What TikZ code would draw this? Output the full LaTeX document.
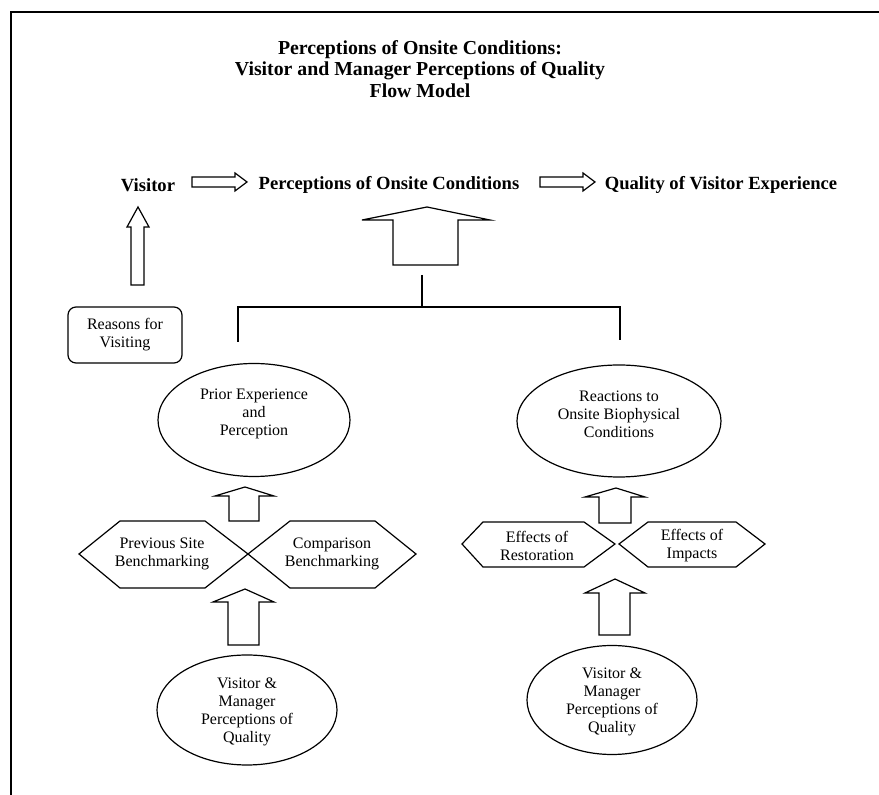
\documentclass[tikz,border=0pt]{standalone}
\usepackage{fontspec}
\setmainfont{Liberation Serif}
\usetikzlibrary{shapes.geometric}

\tikzset{
  oval/.style={ellipse, draw, inner sep=0pt},
  txt/.style={align=center, font=\fontsize{8}{9}\selectfont, inner sep=0pt},
  head/.style={align=center, font=\fontsize{9.3}{10.75}\selectfont\bfseries, inner sep=0pt},
}

\begin{document}
\begin{tikzpicture}[x=0.5pt, y=-0.5pt, line width=0.6pt]
  \useasboundingbox (0,0) rectangle (879,795);
  % frame
  \draw (879,12) -- (11,12) -- (11,795);

  % title
  \node[head, font=\fontsize{9.9}{10.75}\selectfont\bfseries] (title) at (420,69) {Perceptions of Onsite Conditions:\\Visitor and Manager Perceptions of Quality\\Flow Model};

  % flow row
  \node[head] (visitor) at (148,185) {Visitor};
  \node[head] (onsite) at (389,185) {Perceptions of Onsite Conditions};
  \node[head] (quality) at (721,185) {Quality of Visitor Experience};
  \draw (192,177) -- (235,177) -- (235,173) -- (247,182) -- (235,191) -- (235,187) -- (192,187) -- cycle;
  \draw (540,177) -- (583,177) -- (583,173) -- (595,182) -- (583,191) -- (583,187) -- (540,187) -- cycle;

  % reasons
  \node[txt, draw, rounded corners=4pt, minimum width=57pt, minimum height=28pt] (reasons) at (125,335) {Reasons for\\Visiting};
  \draw (131,285) -- (131,227) -- (127,227) -- (138,207) -- (149,227) -- (144,227) -- (144,285) -- cycle;

  % big arrow and tree
  \draw (393,265) -- (393,220) -- (362,220) -- (427,207) -- (490,220) -- (458,220) -- (458,265) -- cycle;
  \coordinate (stem) at (422,275);
  \coordinate (fork) at (422,307);
  \coordinate (dropL) at (238,342);
  \coordinate (dropR) at (620,340);
  \draw (stem) -- (fork);
  \draw (dropL) |- (fork) -| (dropR);

  % left branch
  \node[oval, minimum width=96pt, minimum height=56.5pt] (prior) at (254,420) {};
  \node[txt] (priortxt) at ([yshift=3pt]prior.center) {Prior Experience\\and\\Perception};
  \draw (229,521) -- (229,496) -- (215,496) -- (245,487) -- (274,496) -- (259,496) -- (259,521) -- cycle;
  \draw (79,554) -- (120,521) -- (205,521) -- (248,554) -- (205,588) -- (120,588) -- cycle;
  \draw (248,554) -- (290,521) -- (375,521) -- (416,554) -- (375,588) -- (290,588) -- cycle;
  \node[txt] (prev) at (162,554) {Previous Site\\Benchmarking};
  \node[txt] (comp) at (332,554) {Comparison\\Benchmarking};
  \draw (228,645) -- (228,602) -- (213,602) -- (245,589) -- (274,602) -- (259,602) -- (259,645) -- cycle;
  \node[oval, minimum width=90pt, minimum height=55pt] (vmL) at (247,710) {};
  \node[txt] (vmLtxt) at (247,712) {Visitor \&\\Manager\\Perceptions of\\Quality};

  % right branch
  \node[oval, minimum width=102pt, minimum height=56pt] (react) at (619,421) {};
  \node[txt] (reacttxt) at ([yshift=3.5pt]react.center) {Reactions to\\Onsite Biophysical\\Conditions};
  \draw (599,523) -- (599,497) -- (585,497) -- (616,488) -- (645,497) -- (631,497) -- (631,523) -- cycle;
  \draw (462,544) -- (483,522) -- (584,522) -- (615,544) -- (584,567) -- (483,567) -- cycle;
  \draw (619,544) -- (648,522) -- (736,522) -- (765,544) -- (736,567) -- (648,567) -- cycle;
  \node[txt] (restor) at (537,546) {Effects of\\Restoration};
  \node[txt] (impact) at (692,546) {Effects of\\Impacts};
  \draw (599,635) -- (599,593) -- (585,593) -- (615,579) -- (645,593) -- (630,593) -- (630,635) -- cycle;
  \node[oval, minimum width=85pt, minimum height=54.5pt] (vmR) at (612,700) {};
  \node[txt] (vmRtxt) at (612,702) {Visitor \&\\Manager\\Perceptions of\\Quality};
\end{tikzpicture}
\end{document}
